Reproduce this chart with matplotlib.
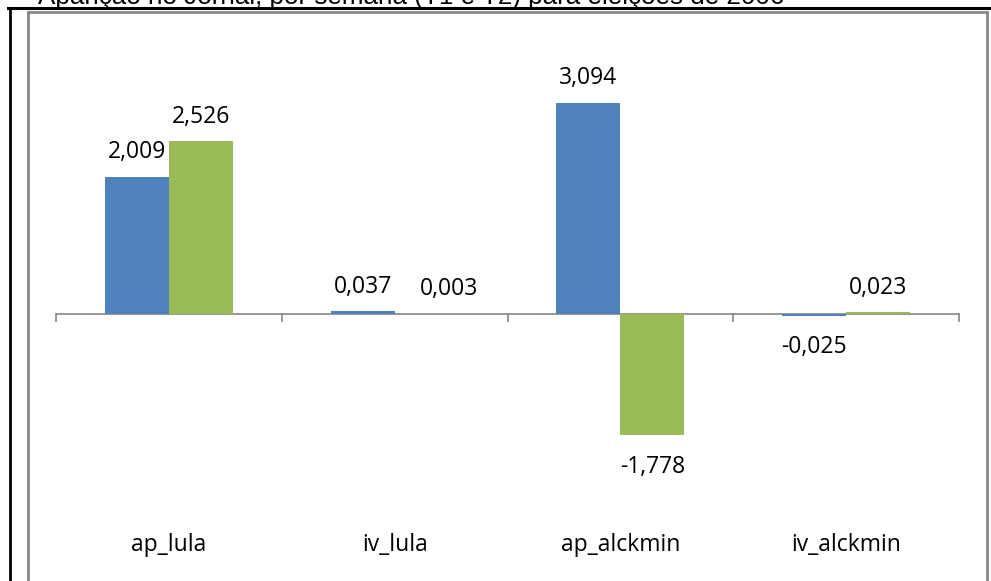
import matplotlib
matplotlib.use("Agg")
import matplotlib.pyplot as plt
from matplotlib.lines import Line2D
import numpy as np

categories = ["ap_lula", "iv_lula", "ap_alckmin", "iv_alckmin"]
series1 = [2.009, 0.037, 3.094, -0.025]
series2 = [2.526, 0.003, -1.778, 0.023]
title = "Aparição no Jornal, por semana (T1 e T2) para eleições de 2006"

BLUE = "#4F81BD"
GREEN = "#9BBB59"
GRAY = "#898989"

W, H = 991, 581
fig = plt.figure(figsize=(W / 100, H / 100), dpi=100)
fig.patch.set_facecolor("white")

def fx(px):
    return px / W

def fy(py):
    return 1 - py / H

# outer frames
fig.add_artist(Line2D([fx(8), fx(991)], [fy(8), fy(8)], color="black", lw=2.2, transform=fig.transFigure))
fig.add_artist(Line2D([fx(9.5), fx(9.5)], [fy(8), fy(581)], color="black", lw=2.0, transform=fig.transFigure))
fig.add_artist(Line2D([fx(28), fx(987)], [fy(11.5), fy(11.5)], color=GRAY, lw=2.0, transform=fig.transFigure))
fig.add_artist(Line2D([fx(28), fx(28)], [fy(11.5), fy(581)], color=GRAY, lw=2.0, transform=fig.transFigure))
fig.add_artist(Line2D([fx(987), fx(987)], [fy(11.5), fy(581)], color=GRAY, lw=2.0, transform=fig.transFigure))

# title (mostly cut off at the top, as in the reference)
fig.text(fx(38), fy(4), title, fontsize=18.7, family="Liberation Sans",
         ha="left", va="baseline", color="black")

# axes
y0_px = 314.0
ppu = 68.3
ymin, ymax = -3.0, 4.0
top_px = y0_px - ymax * ppu
bot_px = y0_px - ymin * ppu
ax = fig.add_axes([fx(56), fy(bot_px), fx(959) - fx(56), (bot_px - top_px) / H])
ax.set_xlim(-0.5, len(categories) - 0.5)
ax.set_ylim(ymin, ymax)
ax.patch.set_alpha(0)

x = np.arange(len(categories))
w = 64 / 225.75
b1 = ax.bar(x - w / 2, series1, width=w, color=BLUE, zorder=2)
b2 = ax.bar(x + w / 2, series2, width=w, color=GREEN, zorder=2)

for s in ["top", "right", "left"]:
    ax.spines[s].set_visible(False)
ax.spines["bottom"].set_position(("data", 0))
ax.spines["bottom"].set_color("#868686")
ax.spines["bottom"].set_linewidth(1.2)
ax.spines["bottom"].set_zorder(1)
ax.set_yticks([])
ax.set_xticks(np.arange(-0.5, len(categories), 1.0))
ax.tick_params(axis="x", direction="out", length=6, width=1.2, color="#868686", labelbottom=False)

label_font = dict(family="Open Sans", fontsize=16.5, color="black")
for i, c in enumerate(categories):
    ax.text(i, -0.068, c, transform=ax.get_xaxis_transform(), ha="center", va="baseline", **label_font)

def fmt(v):
    return f"{v:.3f}".replace(".", ",")

nudge = {(1, 1): 16}
for si, (bars, vals) in enumerate([(b1, series1), (b2, series2)]):
    for i, (bar, v) in enumerate(zip(bars, vals)):
        cx = bar.get_x() + bar.get_width() / 2
        dx = nudge.get((i, si), 0)
        if v >= 0:
            ax.annotate(fmt(v), (cx, v), xytext=(dx, 13.5), textcoords="offset points",
                        ha="center", va="baseline", **label_font)
        else:
            ax.annotate(fmt(v), (cx, v), xytext=(dx, -27), textcoords="offset points",
                        ha="center", va="baseline", **label_font)

fig.savefig("out.png", dpi=100, facecolor="white")
